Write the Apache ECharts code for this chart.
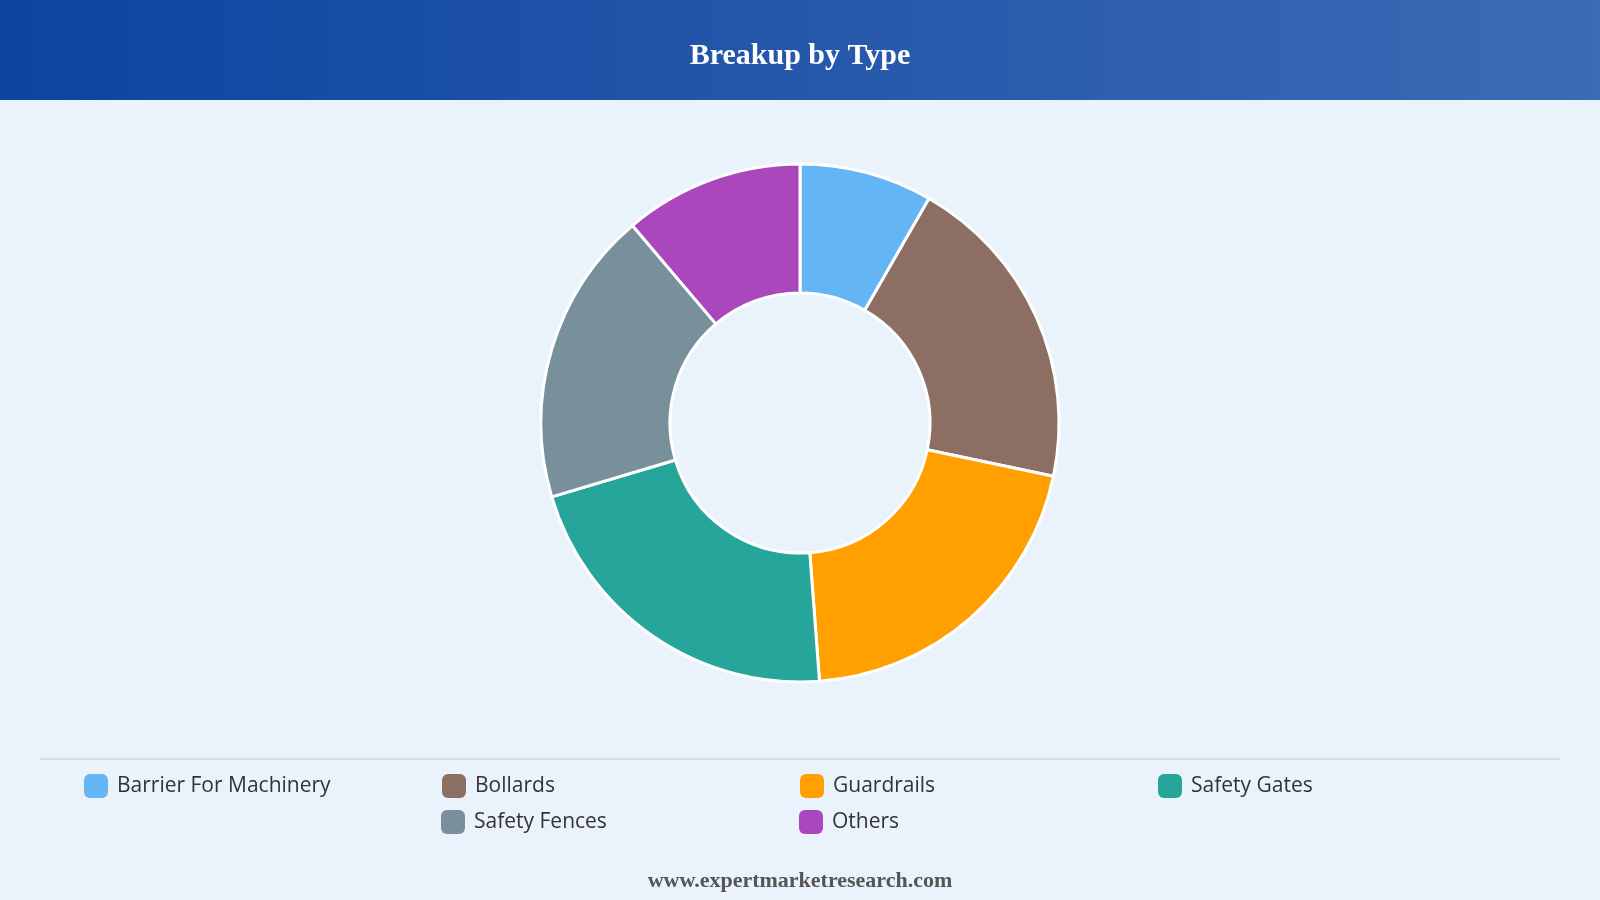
<!DOCTYPE html>
<html lang="en">
<head>
    <meta charset="utf-8"/>
    <script src="https://cdn.jsdelivr.net/npm/echarts@6/dist/echarts.min.js"></script>
    <title>Breakup by Type</title>
    <style>
        html, body { margin: 0; padding: 0; background: #eaf2fb; }
    </style>
</head>
<body>
<div id="main" style="width: 1600px;height:900px;"></div>
<script type="text/javascript">

    var categories = ['Barrier For Machinery', 'Bollards', 'Guardrails', 'Safety Gates', 'Safety Fences', 'Others'];
    var shares = [8.3, 20.0, 20.5, 21.6, 18.4, 11.2];
    var colors = ['#64b5f6', '#8d6e63', '#ffa000', '#26a69a', '#78909c', '#ab47bc'];

    var myChart = echarts.init(document.getElementById('main'));

    var pieData = [];
    for (var i = 0; i < categories.length; i++) {
        pieData.push({value: shares[i], name: categories[i]});
    }

    // legend rows: the second row sits centred under columns 2-3
    function legendRow(names, left, top) {
        return {
            left: left,
            top: top,
            padding: 0,
            itemWidth: 24,
            itemHeight: 24,
            itemGap: 12,
            icon: 'roundRect',
            itemStyle: {borderWidth: 0},
            data: names,
            formatter: '{a|{name}}',
            textStyle: {
                color: '#333333',
                fontSize: 21,
                fontFamily: 'Open Sans',
                rich: {
                    a: {
                        color: '#333333',
                        fontSize: 21,
                        fontFamily: 'Open Sans',
                        width: 313,
                        lineHeight: 24,
                        padding: [0, 0, 0, 4]
                    }
                }
            }
        };
    }

    var option = {
        backgroundColor: '#eaf2fb',
        color: colors,
        title: {
            text: 'Breakup by Type',
            left: 'center',
            top: 36,
            textStyle: {
                color: '#ffffff',
                fontFamily: 'Liberation Serif',
                fontWeight: 'bold',
                fontSize: 30
            }
        },
        graphic: [
            {
                type: 'rect',
                z: -1,
                shape: {x: 0, y: 0, width: 1600, height: 100},
                style: {
                    fill: new echarts.graphic.LinearGradient(0, 0, 1, 0, [
                        {offset: 0, color: '#0d44a0'},
                        {offset: 1, color: '#3c6bb5'}
                    ])
                }
            },
            {
                type: 'line',
                shape: {x1: 40, y1: 759, x2: 1560, y2: 759},
                style: {stroke: '#d6dce3', lineWidth: 2}
            },
            {
                type: 'text',
                left: 'center',
                top: 870,
                style: {
                    text: 'www.expertmarketresearch.com',
                    fill: '#555555',
                    font: 'bold 22px "Liberation Serif"'
                }
            }
        ],
        legend: [
            legendRow(categories.slice(0, 4), 84, 774),
            legendRow(categories.slice(4), 441, 810)
        ],
        series: [
            {
                type: 'pie',
                center: [800, 423],
                radius: [130, 259],
                startAngle: 90,
                clockwise: true,
                label: {show: false},
                labelLine: {show: false},
                itemStyle: {
                    borderColor: '#ffffff',
                    borderWidth: 3
                },
                data: pieData
            }
        ]
    };
    myChart.setOption(option);

    window.onresize = myChart.resize;
</script>
</body>
</html>
